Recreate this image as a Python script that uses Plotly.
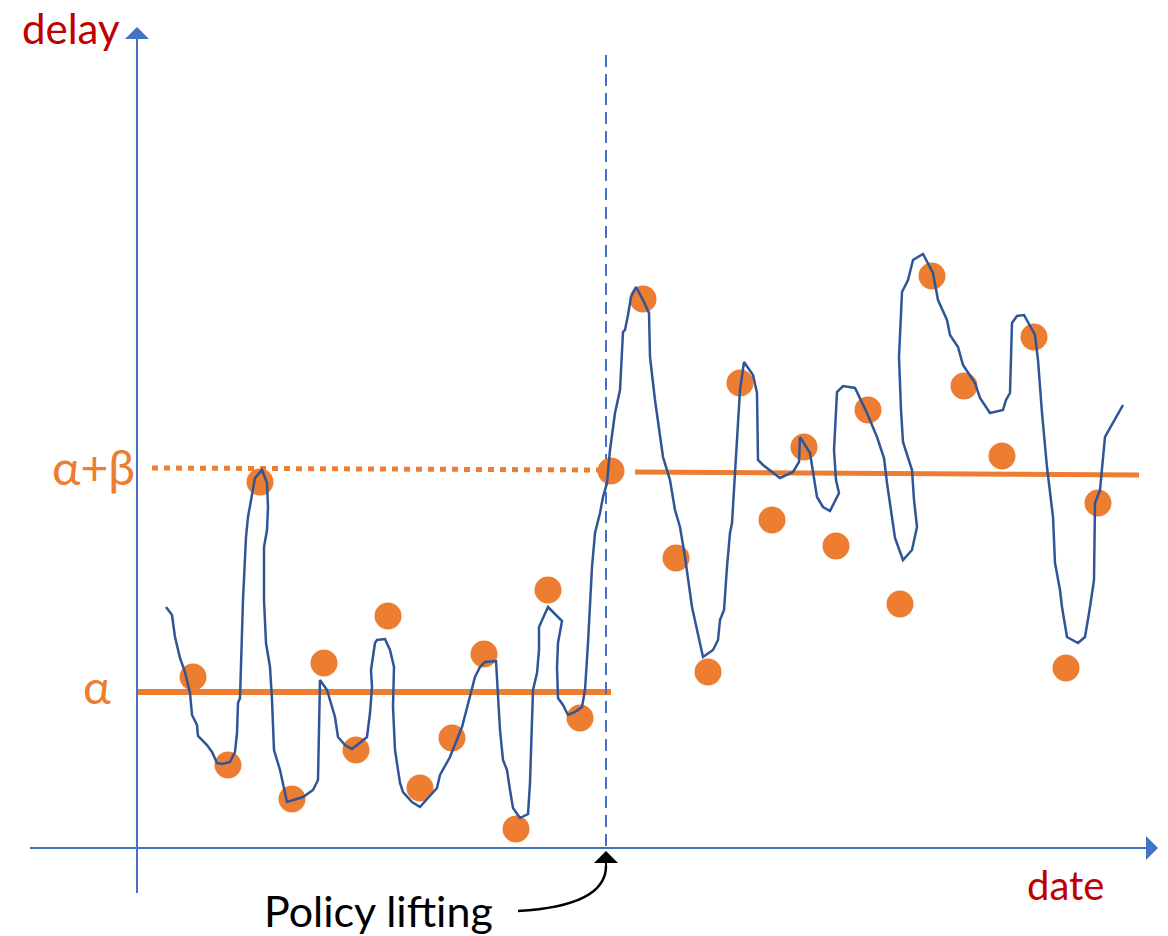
import plotly.graph_objects as go

# Coordinate system: date = horizontal position, delay = height above the date axis
AXIS_Y_PX = 848

# Observed delays (orange dots)
dot_dates = [193, 228, 260, 292, 324, 356, 388, 420, 452, 484, 516, 548, 580, 611,
             643, 676, 708, 740, 772, 804, 836, 868, 900, 932, 964, 1002, 1034, 1066, 1098]
dot_px = [677, 765, 482, 799, 663, 750, 616, 788, 738, 654, 829, 590, 718, 471,
          299, 558, 672, 383, 520, 447, 546, 410, 604, 276, 386, 456, 337, 668, 503]
dot_delays = [AXIS_Y_PX - p for p in dot_px]

# Hand-drawn smooth curve (blue)
curve_dates = [166, 172, 175, 180, 185, 190, 192, 197, 198, 207, 212, 217, 222, 230, 235, 237, 238, 240,
               243, 246, 248, 252, 255, 262, 267, 268, 267, 264, 264, 266, 270, 272, 274, 280, 287, 303,
               313, 318, 320, 327, 332, 335, 338, 345, 352, 360, 367, 370, 372, 371, 375, 377, 385, 390,
               394, 393, 395, 400, 403, 412, 420, 428, 437, 440, 450, 462, 468, 475, 480, 485, 496, 498,
               500, 503, 507, 510, 513, 520, 528, 530, 532, 533, 537, 539, 539, 543, 548, 562, 558, 557,
               558, 563, 568, 575, 582, 585, 588, 592, 595, 600, 603, 607, 610, 615, 620, 623, 625, 628,
               631, 636, 643, 649, 650, 655, 663, 670, 675, 680, 685, 692, 703, 713, 718, 720, 724, 727,
               730, 732, 735, 740, 744, 753, 757, 758, 763, 773, 780, 793, 799, 800, 810, 817, 823, 830,
               839, 836, 834, 837, 843, 855, 862, 867, 877, 884, 887, 891, 895, 903, 912, 917, 914, 912,
               903, 901, 899, 902, 908, 913, 923, 933, 938, 947, 950, 958, 963, 975, 980, 990, 1003, 1006,
               1010, 1012, 1017, 1024, 1035, 1038, 1042, 1047, 1053, 1055, 1060, 1062, 1067, 1078, 1085,
               1090, 1094, 1095, 1100, 1105, 1123]
curve_px = [607, 615, 637, 658, 672, 693, 715, 725, 736, 745, 752, 763, 764, 762, 752, 733, 703, 698,
            600, 537, 517, 493, 478, 470, 483, 507, 530, 547, 600, 643, 667, 700, 750, 770, 802, 797,
            790, 780, 680, 690, 707, 717, 737, 745, 749, 743, 737, 713, 687, 670, 643, 640, 639, 650,
            667, 707, 750, 783, 792, 802, 807, 798, 788, 775, 757, 727, 703, 677, 667, 662, 661, 693,
            730, 760, 770, 790, 808, 818, 814, 783, 733, 690, 673, 650, 627, 618, 607, 621, 643, 667,
            698, 705, 715, 712, 707, 690, 643, 567, 533, 513, 497, 483, 450, 413, 390, 332, 330, 315,
            297, 287, 300, 313, 357, 400, 457, 480, 510, 527, 557, 607, 657, 650, 640, 620, 610, 567,
            533, 523, 470, 390, 362, 375, 393, 460, 465, 473, 478, 472, 462, 437, 453, 497, 507, 511,
            493, 480, 450, 392, 386, 388, 403, 413, 437, 458, 483, 513, 538, 560, 550, 527, 500, 470,
            442, 410, 357, 292, 280, 260, 254, 273, 300, 320, 335, 347, 365, 383, 398, 413, 410, 400,
            393, 323, 316, 315, 335, 360, 413, 467, 517, 563, 590, 607, 637, 643, 637,
            607, 580, 503, 490, 437, 405]
curve_delays = [AXIS_Y_PX - p for p in curve_px]

# Level lines
policy_date = 606
alpha_dates = [138, 611]
alpha_delay = [AXIS_Y_PX - 692, AXIS_Y_PX - 692]
ab_dotted_dates = [152, 600]
ab_dotted_delay = [AXIS_Y_PX - 468, AXIS_Y_PX - 470]
ab_solid_dates = [635, 1139]
ab_solid_delay = [AXIS_Y_PX - 472, AXIS_Y_PX - 475]

ORANGE = "#ED7D31"
AXIS_BLUE = "#4472C4"
CURVE_BLUE = "#2F5597"
RED = "#C00000"
FONT = "Lato"

fig = go.Figure()

# level lines
fig.add_trace(go.Scatter(x=alpha_dates, y=alpha_delay, mode="lines",
                         line=dict(color=ORANGE, width=6), hoverinfo="skip"))
fig.add_trace(go.Scatter(x=ab_dotted_dates, y=ab_dotted_delay, mode="lines",
                         line=dict(color=ORANGE, width=5, dash="6px,6px"), hoverinfo="skip"))
fig.add_trace(go.Scatter(x=ab_solid_dates, y=ab_solid_delay, mode="lines",
                         line=dict(color=ORANGE, width=5), hoverinfo="skip"))

# policy line
fig.add_trace(go.Scatter(x=[policy_date, policy_date], y=[AXIS_Y_PX - 55, 0], mode="lines",
                         line=dict(color=AXIS_BLUE, width=2, dash="12px,7px"), hoverinfo="skip"))

# dots
fig.add_trace(go.Scatter(x=dot_dates, y=dot_delays, mode="markers",
                         marker=dict(color=ORANGE, size=27, line=dict(width=0)), hoverinfo="skip"))

# curve
fig.add_trace(go.Scatter(x=curve_dates, y=curve_delays, mode="lines",
                         line=dict(color=CURVE_BLUE, width=2.5), hoverinfo="skip"))

# axes lines
fig.add_trace(go.Scatter(x=[30, 1145], y=[0, 0], mode="lines",
                         line=dict(color=AXIS_BLUE, width=2), hoverinfo="skip"))
fig.add_trace(go.Scatter(x=[137, 137], y=[AXIS_Y_PX - 893, AXIS_Y_PX - 40], mode="lines",
                         line=dict(color=AXIS_BLUE, width=2), hoverinfo="skip"))

annotations = [
    # arrow heads of axes
    dict(x=1158, y=0, ax=1140, ay=0, xref="x", yref="y", axref="x", ayref="y",
         showarrow=True, arrowhead=1, arrowsize=2, arrowwidth=2, arrowcolor=AXIS_BLUE, text=""),
    dict(x=137, y=AXIS_Y_PX - 27, ax=137, ay=AXIS_Y_PX - 45, xref="x", yref="y", axref="x", ayref="y",
         showarrow=True, arrowhead=1, arrowsize=2, arrowwidth=2, arrowcolor=AXIS_BLUE, text=""),
    # policy arrow head
    dict(x=policy_date, y=AXIS_Y_PX - 851, ax=policy_date, ay=AXIS_Y_PX - 872, xref="x", yref="y",
         axref="x", ayref="y", showarrow=True, arrowhead=1, arrowsize=2, arrowwidth=2,
         arrowcolor="black", text=""),
    # texts
    dict(x=71, y=AXIS_Y_PX - 28, text="delay", showarrow=False, xref="x", yref="y",
         font=dict(family=FONT, size=42, color=RED)),
    dict(x=1065, y=AXIS_Y_PX - 885, text="date", showarrow=False, xref="x", yref="y",
         font=dict(family=FONT, size=40, color=RED)),
    dict(x=93, y=AXIS_Y_PX - 466, text="α+β", showarrow=False, xref="x", yref="y",
         font=dict(family=FONT, size=48, color=ORANGE)),
    dict(x=97, y=AXIS_Y_PX - 686, text="α", showarrow=False, xref="x", yref="y",
         font=dict(family=FONT, size=47, color=ORANGE)),
    dict(x=378, y=AXIS_Y_PX - 910, text="Policy lifting", showarrow=False, xref="x", yref="y",
         font=dict(family=FONT, size=43, color="black")),
]

# curved arrow body
arrow_start = (518, AXIS_Y_PX - 911)
arrow_ctrl = (606, AXIS_Y_PX - 906)
arrow_end = (606, AXIS_Y_PX - 866)
fig.add_shape(type="path",
              path=f"M {arrow_start[0]},{arrow_start[1]} Q {arrow_ctrl[0]},{arrow_ctrl[1]} {arrow_end[0]},{arrow_end[1]}",
              line=dict(color="black", width=2.5), xref="x", yref="y")

fig.update_layout(
    width=1168, height=936,
    margin=dict(l=0, r=0, t=0, b=0),
    paper_bgcolor="white", plot_bgcolor="white",
    showlegend=False,
    xaxis=dict(range=[0, 1168], visible=False, fixedrange=True),
    yaxis=dict(range=[AXIS_Y_PX - 936, AXIS_Y_PX], visible=False, fixedrange=True),
    annotations=annotations,
)

fig.write_html("out.html", config={"displayModeBar": False},
               post_script="document.body.style.margin='0';document.body.style.overflow='hidden';")
